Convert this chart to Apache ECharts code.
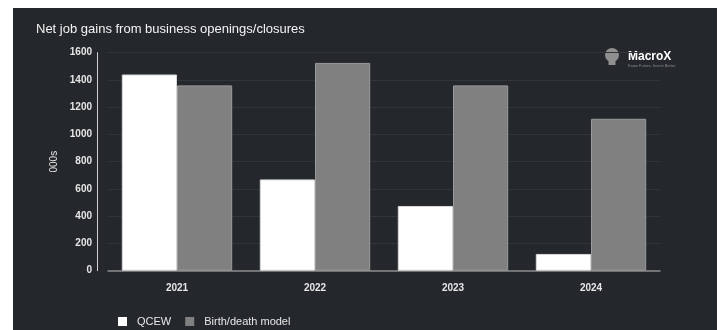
<!DOCTYPE html>
<html><head><meta charset="utf-8">
<script src="https://cdn.jsdelivr.net/npm/echarts@6/dist/echarts.min.js"></script>
<style>
html,body{margin:0;padding:0;background:#fff;}
#wrap{position:relative;width:725px;height:330px;background:#fff;overflow:hidden;}
#c{position:absolute;left:13px;top:8px;width:704px;height:322px;}
</style></head>
<body><div id="wrap"><div id="c"></div></div>
<script>
const categories = ['2021', '2022', '2023', '2024'];
const qcew = [1440, 670, 475, 123];
const birthDeath = [1360, 1525, 1360, 1115];
const yTicks = [0, 200, 400, 600, 800, 1000, 1200, 1400, 1600];
const titleText = 'Net job gains from business openings/closures';

const chart = echarts.init(document.getElementById('c'), null, {renderer: 'canvas'});
chart.setOption({
  backgroundColor: '#24282c',
  animation: false,
  title: {
    text: titleText, left: 18, top: 10,
    textStyle: {color: '#f2f2f2', fontSize: 13, fontWeight: 'normal', fontFamily: '"Liberation Sans", Arial, sans-serif'}
  },
  legend: {
    left: 100, top: 303,
    itemWidth: 9, itemHeight: 9, itemGap: 14,
    icon: 'rect',
    itemStyle: {borderWidth: 0},
    textStyle: {color: '#e6e6e6', fontSize: 11, fontFamily: '"Liberation Sans", Arial, sans-serif', padding: [0, 0, 0, 5]},
    data: ['QCEW', 'Birth/death model']
  },
  grid: {left: 95, right: 57, top: 44.7, bottom: 59.3, containLabel: false},
  xAxis: {
    type: 'category', data: categories,
    axisLine: {lineStyle: {color: '#8a8a8a', width: 1.5}},
    axisTick: {show: false},
    axisLabel: {color: '#e6e6e6', fontSize: 10, fontWeight: 'bold', margin: 13, fontFamily: '"Liberation Sans", Arial, sans-serif'}
  },
  yAxis: {
    type: 'value', min: yTicks[0], max: yTicks[yTicks.length - 1], interval: 200,
    offset: 11,
    name: '000s', nameLocation: 'middle', nameGap: 35, nameRotate: 90,
    nameTextStyle: {color: '#e6e6e6', fontSize: 10, fontFamily: '"Liberation Sans", Arial, sans-serif'},
    axisLine: {show: true, lineStyle: {color: '#d0d0d0', width: 1}},
    axisTick: {show: false},
    axisLabel: {color: '#e6e6e6', fontSize: 10, fontWeight: 'bold', margin: 5,
      fontFamily: '"Liberation Sans", Arial, sans-serif', formatter: v => String(v)},
    splitLine: {show: true, lineStyle: {color: '#30353a', width: 1}}
  },
  series: [
    {name: 'QCEW', type: 'bar', data: qcew, barGap: '0%', barCategoryGap: '20%',
     itemStyle: {color: '#ffffff', borderColor: '#d8d8d8', borderWidth: 1}},
    {name: 'Birth/death model', type: 'bar', data: birthDeath,
     itemStyle: {color: '#808080', borderColor: '#9a9a9a', borderWidth: 1}}
  ],
  graphic: [
    {type: 'circle', shape: {cx: 599, cy: 47, r: 7}, style: {fill: '#8f8f8f'}},
    {type: 'rect', shape: {x: 595.5, y: 52, width: 7, height: 5}, style: {fill: '#8f8f8f'}},
    {type: 'text', left: 615, top: 43, style: {text: 'MacroX', fill: '#ffffff', font: 'bold 12px "Liberation Sans", Arial, sans-serif'}},
    {type: 'text', left: 615, top: 56, style: {text: 'Know Future. Invest Better.', fill: '#8a8a8a', font: '4px "Liberation Sans", Arial, sans-serif'}}
  ]
});
</script></body></html>
